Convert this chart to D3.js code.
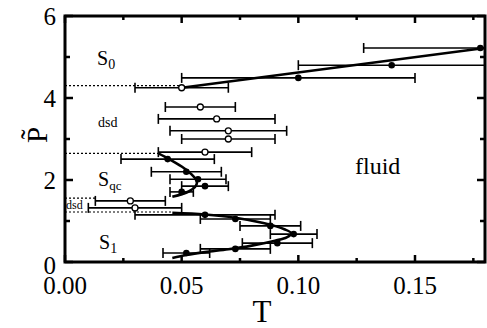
<!DOCTYPE html>
<html>
<head>
<meta charset="utf-8">
<script src="https://cdn.jsdelivr.net/npm/d3@7"></script>
<style>
body{margin:0;background:#fff;}
text{font-family:"Liberation Serif","Times New Roman",serif;fill:#000;}
</style>
</head>
<body>
<div id="chart"></div>
<script>
// data: [T, P, error in T]
const s0Points = [[0.100,4.49,0.050],[0.140,4.80,0.040],[0.178,5.22,0.050]];
const openPoints = [[0.050,4.25,0.020],[0.058,3.78,0.015],[0.065,3.49,0.025],[0.070,3.20,0.025],
  [0.070,3.00,0.020],[0.060,2.68,0.020],[0.028,1.49,0.015],[0.030,1.32,0.020]];
const sqcPoints = [[0.044,2.51,0.020],[0.052,2.20,0.015],[0.057,2.02,0.012],[0.060,1.85,0.010],[0.050,1.71,0.005]];
const s1Points = [[0.060,1.15,0.030],[0.073,1.05,0.015],[0.088,0.88,0.013],[0.098,0.68,0.010],
  [0.091,0.46,0.015],[0.073,0.32,0.015],[0.052,0.22,0.010]];
const s0Line = [[0.050,4.25],[0.180,5.22]];
const sqcCurve = [[0.040,2.65],[0.045,2.50],[0.050,2.33],[0.054,2.15],[0.0565,1.97],[0.056,1.85],[0.053,1.72],[0.046,1.59]];
const s1Curve = [[0.046,1.20],[0.060,1.16],[0.073,1.08],[0.085,0.95],[0.094,0.80],[0.097,0.70],[0.095,0.60],
  [0.090,0.52],[0.080,0.40],[0.070,0.31],[0.060,0.24],[0.052,0.17],[0.046,0.10]];
// dotted phase lines: [P, T where it stops]
const dotted = [[4.30,0.050],[2.65,0.040],[1.56,0.013],[1.22,0.046]];
const xTicks = [0,0.05,0.10,0.15];
const xMinor = [0.025,0.075,0.125,0.175];
const yTicks = [0,2,4,6];
const yMinor = [1,3,5];

const width=487, height=328;
const x = d3.scaleLinear().domain([0,0.18]).range([65,485]);
const y = d3.scaleLinear().domain([0,6]).range([262,16]);

const svg = d3.select("#chart").append("svg")
  .attr("width",width).attr("height",height);

svg.append("clipPath").attr("id","plotclip")
  .append("rect").attr("x",65).attr("y",16).attr("width",420).attr("height",246);

const g = svg.append("g").attr("clip-path","url(#plotclip)");

// dotted lines
g.selectAll(".dot-line").data(dotted).join("line")
  .attr("x1",x(0)).attr("x2",d=>x(d[1]))
  .attr("y1",d=>y(d[0])).attr("y2",d=>y(d[0]))
  .attr("stroke","#000").attr("stroke-width",1.2).attr("stroke-dasharray","2,2");

// fitted curves
const line = d3.line().x(d=>x(d[0])).y(d=>y(d[1]));
g.append("path").attr("d",line(s0Line)).attr("fill","none").attr("stroke","#000").attr("stroke-width",2.6);
g.append("path").attr("d",line.curve(d3.curveCatmullRom)(sqcCurve)).attr("fill","none").attr("stroke","#000").attr("stroke-width",2.6);
g.append("path").attr("d",line.curve(d3.curveCatmullRom)(s1Curve)).attr("fill","none").attr("stroke","#000").attr("stroke-width",2.6);

// error bars
function errBars(data){
  const eb = g.append("g");
  eb.selectAll("line.h").data(data).join("line")
    .attr("x1",d=>x(d[0]-d[2])).attr("x2",d=>x(d[0]+d[2]))
    .attr("y1",d=>y(d[1])).attr("y2",d=>y(d[1]))
    .attr("stroke","#000").attr("stroke-width",1.6);
  [-1,1].forEach(function(s){
    eb.selectAll("line.c"+s).data(data).join("line")
      .attr("x1",d=>x(d[0]+s*d[2])).attr("x2",d=>x(d[0]+s*d[2]))
      .attr("y1",d=>y(d[1])-5).attr("y2",d=>y(d[1])+5)
      .attr("stroke","#000").attr("stroke-width",1.6);
  });
}
errBars(s0Points); errBars(openPoints); errBars(sqcPoints); errBars(s1Points);

// points
const filled = s0Points.concat(sqcPoints, s1Points);
g.selectAll("circle.f").data(filled).join("circle")
  .attr("cx",d=>x(d[0])).attr("cy",d=>y(d[1])).attr("r",3.3).attr("fill","#000");
g.selectAll("circle.o").data(openPoints).join("circle")
  .attr("cx",d=>x(d[0])).attr("cy",d=>y(d[1])).attr("r",3)
  .attr("fill","#fff").attr("stroke","#000").attr("stroke-width",1.3);

// frame and ticks
const ax = svg.append("g");
function tick(x1,y1,x2,y2){
  ax.append("line").attr("x1",x1).attr("y1",y1).attr("x2",x2).attr("y2",y2)
    .attr("stroke","#000").attr("stroke-width",2.5);
}
xTicks.forEach(t=>{ tick(x(t),262,x(t),255); tick(x(t),16,x(t),23); });
xMinor.forEach(t=>{ tick(x(t),262,x(t),258); tick(x(t),16,x(t),20); });
yTicks.forEach(t=>{ tick(65,y(t),73,y(t)); tick(485,y(t),477,y(t)); });
yMinor.forEach(t=>{ tick(65,y(t),70,y(t)); tick(485,y(t),480,y(t)); });
ax.append("rect").attr("x",65).attr("y",16).attr("width",420).attr("height",246)
  .attr("fill","none").attr("stroke","#000").attr("stroke-width",3);

// tick labels
ax.selectAll("text.xt").data(xTicks).join("text")
  .attr("x",d=>x(d)).attr("y",294).attr("text-anchor","middle")
  .attr("font-size",25).text(d=>d3.format(".2f")(d));
ax.selectAll("text.yt").data(yTicks).join("text")
  .attr("x",56).attr("y",d=>y(d)+(d===0?12:9)).attr("text-anchor","end")
  .attr("font-size",25).text(d=>d);

// axis titles
ax.append("text").attr("x",262).attr("y",322).attr("text-anchor","middle")
  .attr("font-size",31).text("T");
ax.append("text").attr("transform","translate(47,135) rotate(-90)")
  .attr("text-anchor","middle").attr("font-size",29).text("P\u0303");

// region labels
function sLabel(px,py,sub,subSize){
  const t = svg.append("text").attr("x",px).attr("y",py).attr("font-size",20);
  t.append("tspan").text("S");
  t.append("tspan").attr("font-size",subSize).attr("dy",4).text(sub);
}
sLabel(97,65,"0",14);
sLabel(98,186,"qc",13);
sLabel(99,249,"1",14);
svg.append("text").attr("x",98).attr("y",127).attr("font-size",14).text("dsd");
svg.append("text").attr("x",66).attr("y",209).attr("font-size",12).text("dsd");
svg.append("text").attr("x",355).attr("y",174).attr("font-size",24).text("fluid");
</script>
</body>
</html>
